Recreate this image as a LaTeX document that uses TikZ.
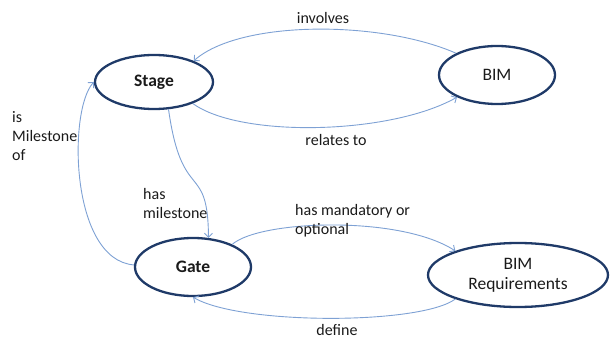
\documentclass[tikz,border=0pt]{standalone}
\usepackage{fontspec}
\setmainfont{Carlito}
\usetikzlibrary{arrows.meta,shapes.geometric}
\definecolor{nodeline}{HTML}{1F3A68}
\definecolor{arrowc}{HTML}{7EA1D4}
\definecolor{txt}{HTML}{1A1A1A}
\tikzset{
  concept/.style={ellipse, draw=nodeline, line width=2.3pt, inner sep=0pt, text=txt,
    font=\fontsize{17.5}{20}\selectfont, align=center},
  rel/.style={draw=arrowc, line width=0.9pt, -{Straight Barb[length=4pt,width=8pt]}},
  lbl/.style={text=txt, font=\fontsize{16}{19}\selectfont, inner sep=0pt, align=left}
}
\begin{document}
\begin{tikzpicture}[x=1pt,y=-1pt]
\useasboundingbox (0,0) rectangle (610,339);
\node[concept, minimum width=118pt, minimum height=54pt, font=\fontsize{17.5}{20}\selectfont\bfseries] (stage) at (154,82) {Stage};
\node[concept, minimum width=116pt, minimum height=58pt] (bim) at (497,75) {BIM};
\node[concept, minimum width=116pt, minimum height=58pt, font=\fontsize{17.5}{20}\selectfont\bfseries] (gate) at (193,267) {Gate};
\node[concept, minimum width=180pt, minimum height=64pt] (req) at (518,275) {BIM\\Requirements};

\draw[rel] (bim.152) .. controls (380,20) and (240,20) .. (stage.28);
\draw[rel] (stage.-29) .. controls (240,138) and (390,135) .. (bim.209);
\draw[rel] (stage.-62) .. controls (182,205) and (208,160) .. (gate.62);
\draw[rel] (gate.178) .. controls (70,260) and (68,110) .. (stage.180);
\draw[rel] (gate.30) .. controls (260,220) and (400,215) .. (req.159);
\draw[rel] (req.201) .. controls (420,325) and (240,325) .. (gate.-90);

\node[lbl] (l1) at (323,18) {involves};
\node[lbl] (l2) at (336,140) {relates to};
\node[lbl, anchor=west] (l3) at (143,204) {has\\milestone};
\node[lbl, anchor=west] (l4) at (12,136) {is\\Milestone\\of};
\node[lbl, anchor=west] (l5) at (295,221) {has mandatory or\\optional};
\node[lbl, anchor=south] (l6) at (337,336) {define};
\end{tikzpicture}
\end{document}
